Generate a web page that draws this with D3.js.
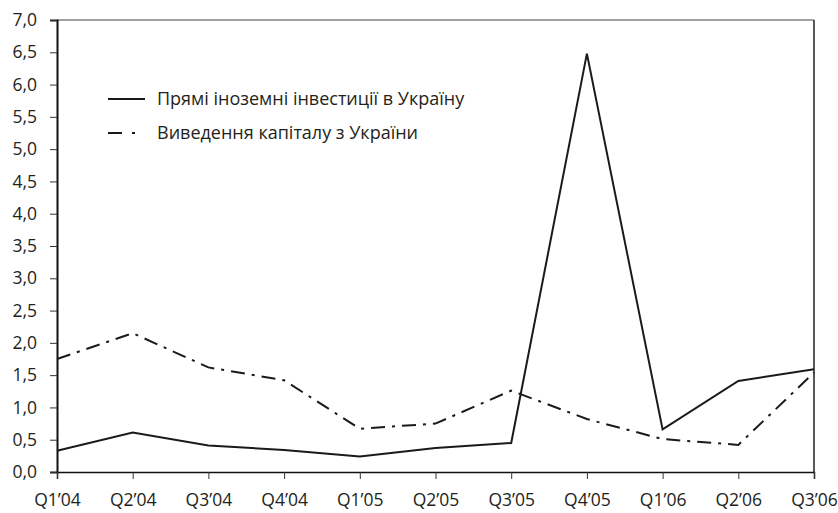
<!DOCTYPE html>
<html>
<head>
<meta charset="utf-8">
<script src="https://cdn.jsdelivr.net/npm/d3@7"></script>
<style>
  html, body { margin: 0; padding: 0; background: #fff; }
  svg { display: block; }
  text { font-family: "Open Sans", sans-serif; fill: #231f20; }
</style>
</head>
<body>
<div id="chart"></div>
<script>
const categories = ["Q1’04","Q2’04","Q3’04","Q4’04","Q1’05","Q2’05","Q3’05","Q4’05","Q1’06","Q2’06","Q3’06"];
const fdiValues = [0.33, 0.61, 0.41, 0.34, 0.24, 0.37, 0.45, 6.48, 0.66, 1.41, 1.59];
const outflowValues = [1.75, 2.15, 1.62, 1.42, 0.67, 0.75, 1.26, 0.82, 0.51, 0.42, 1.54];
const yTicks = [0, 0.5, 1, 1.5, 2, 2.5, 3, 3.5, 4, 4.5, 5, 5.5, 6, 6.5, 7];
const seriesNames = ["Прямі іноземні інвестиції в Україну", "Виведення капіталу з України"];

const W = 838, H = 513;
const m = {left: 57, right: 24, top: 20, bottom: 41};
const iw = W - m.left - m.right, ih = H - m.top - m.bottom;

const svg = d3.select("#chart").append("svg").attr("width", W).attr("height", H);
const g = svg.append("g").attr("transform", `translate(${m.left},${m.top})`);

const x = d3.scalePoint().domain(categories).range([0, iw]);
const y = d3.scaleLinear().domain([0, 7]).range([ih, 0]);

const fmt = v => d3.format(".1f")(v).replace(".", ",");

// frame top and right
g.append("line").attr("x1", 0).attr("x2", iw).attr("y1", 0).attr("y2", 0)
  .attr("stroke", "#444").attr("stroke-width", 1.2);
g.append("line").attr("x1", iw).attr("x2", iw).attr("y1", 0).attr("y2", ih)
  .attr("stroke", "#222").attr("stroke-width", 1.5);

// y axis
const yAxis = g.append("g").call(d3.axisLeft(y).tickValues(yTicks).tickFormat(fmt).tickSize(7).tickPadding(13));
yAxis.select(".domain").attr("stroke", "#111").attr("stroke-width", 2);
yAxis.selectAll(".tick line").attr("stroke", "#333").attr("stroke-width", 1);
yAxis.selectAll("text").style("font-size", "17.5px").attr("fill", "#231f20");

// x axis
const xAxis = g.append("g").attr("transform", `translate(0,${ih})`)
  .call(d3.axisBottom(x).tickSize(7).tickPadding(15));
xAxis.select(".domain").attr("stroke", "#111").attr("stroke-width", 1.5);
xAxis.selectAll(".tick line").attr("stroke", "#333").attr("stroke-width", 1);
xAxis.selectAll("text").style("font-size", "17.5px").attr("fill", "#231f20");

const line = d3.line().x((d, i) => x(categories[i])).y(d => y(d));

g.append("path").datum(outflowValues).attr("d", line)
  .attr("fill", "none").attr("stroke", "#1a1a1a").attr("stroke-width", 2)
  .attr("stroke-dasharray", "14,7,3,7");
g.append("path").datum(fdiValues).attr("d", line)
  .attr("fill", "none").attr("stroke", "#1a1a1a").attr("stroke-width", 2);

// legend
const leg = svg.append("g");
const legY = [99, 133];
leg.append("line").attr("x1", 108).attr("x2", 145).attr("y1", legY[0]).attr("y2", legY[0])
  .attr("stroke", "#1a1a1a").attr("stroke-width", 2);
leg.append("line").attr("x1", 108).attr("x2", 136).attr("y1", legY[1]).attr("y2", legY[1])
  .attr("stroke", "#1a1a1a").attr("stroke-width", 2).attr("stroke-dasharray", "14,10,3,20");
seriesNames.forEach((n, i) => {
  leg.append("text").attr("x", 157).attr("y", legY[i]).attr("dy", "0.35em")
    .style("font-size", "18px").text(n);
});
</script>
</body>
</html>
